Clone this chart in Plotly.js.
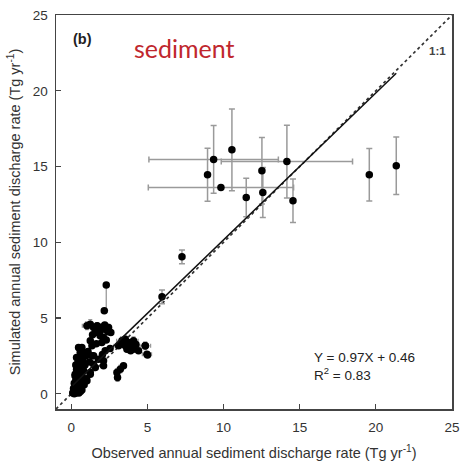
<!DOCTYPE html>
<html>
<head>
<meta charset="utf-8">
<script src="https://cdn.plot.ly/plotly-3.0.1.min.js"></script>
<style>html,body{margin:0;padding:0;background:#fff;}#chart{width:461px;height:464px;}</style>
</head>
<body>
<div id="chart"></div>
<script>
// Stations with large error bars (observed x, simulated y, x error, y error)
const bigObs   = [8.95, 9.35, 10.55, 9.83, 11.49, 12.52, 12.58, 14.16, 14.56, 19.57, 21.34, 7.27, 5.96];
const bigSim   = [14.46, 15.47, 16.10, 13.62, 12.96, 14.72, 13.29, 15.33, 12.74, 14.46, 15.05, 9.04, 6.40];
const bigErrX  = [0, 4.25, 0, 4.77, 0, 0, 0, 4.31, 0, 0, 0, 0, 0];
const bigErrY  = [1.75, 2.23, 2.7, 0, 1.27, 2.2, 1.65, 2.4, 1.43, 1.73, 1.9, 0.45, 0.45];

// Stations in the low-discharge cluster
const smallObs = [2.30, 2.17, 1.03, 1.25, 1.47, 1.79, 2.01, 2.23, 2.45, 2.60, 1.58, 1.90, 2.12, 1.25, 1.36, 2.01, 2.23, 0.59, 0.70,
                  1.47, 1.79, 2.12, 1.58, 1.25, 0.59, 0.81, 3.33, 3.55, 3.76, 4.09, 3.11, 3.66, 4.09, 4.42, 4.86, 4.97, 3.55, 3.87,
                  3.22, 3.00, 3.43, 3.04, 2.12, 0.48, 0.59, 1.36, 1.47, 3.76, 4.86, 5.01, 0.26, 0.70, 1.03, 1.25,
                  0.20, 0.30, 0.40, 0.50, 0.60, 0.25, 0.35, 0.45, 0.55, 0.70, 0.30, 0.40, 0.50, 0.65, 0.20, 0.30, 0.45, 0.60,
                  0.25, 0.40, 0.55, 0.70, 0.35, 0.50, 0.65, 0.80, 0.90, 0.30, 0.45, 0.75, 0.15, 0.10, 0.85, 1.00, 0.60, 0.95, 0.35, 0.15,
                  1.70, 2.20, 2.40, 1.90, 1.40, 2.30, 1.10, 2.55, 1.65, 2.05, 1.20, 0.85, 3.90, 4.25];
const smallSim = [7.19, 5.48, 4.49, 4.60, 4.38, 4.27, 4.38, 4.27, 4.38, 4.05, 4.05, 3.83, 3.72, 3.50, 3.17, 3.39, 2.84, 2.95, 3.06,
                  2.51, 2.29, 1.85, 1.74, 1.41, 1.74, 1.52, 3.50, 3.61, 3.39, 3.50, 3.17, 2.95, 2.95, 2.84, 3.17, 2.62, 3.17, 3.17,
                  1.63, 1.41, 1.85, 1.08, 2.18, 3.06, 2.73, 2.51, 1.96, 3.06, 3.17, 2.57, 1.30, 1.08, 0.86, 1.30,
                  0.00, 0.05, 0.10, 0.05, 0.15, 0.20, 0.30, 0.35, 0.30, 0.25, 0.50, 0.60, 0.70, 0.55, 0.70, 0.90, 1.00, 0.90,
                  1.20, 1.30, 1.40, 1.20, 1.60, 1.70, 1.80, 1.50, 1.90, 1.90, 2.10, 2.20, 0.35, 0.05, 0.60, 1.00, 2.40, 2.50, 2.40, 0.15,
                  4.50, 4.55, 4.10, 4.15, 3.90, 3.55, 2.80, 3.00, 3.30, 2.60, 2.10, 2.70, 2.85, 3.25];
const smallErrX = [0, 0, 0.3, 0, 0, 0, 0, 0, 0, 0, 0, 0, 0, 0, 0, 0, 0, 0, 0,
                   0, 0, 0, 0, 0, 0, 0, 0.35, 0, 0, 0.3, 0.3, 0, 0, 0, 0.35, 0.3, 0, 0,
                   0, 0, 0, 0, 0, 0, 0, 0, 0, 0, 0, 0, 0, 0, 0, 0,
                   0, 0, 0, 0, 0, 0, 0, 0, 0, 0, 0, 0, 0, 0, 0, 0, 0, 0, 0, 0, 0, 0, 0, 0, 0, 0, 0, 0, 0, 0, 0, 0, 0, 0, 0, 0, 0, 0,
                   0, 0, 0, 0, 0, 0, 0, 0, 0, 0, 0, 0, 0, 0];
const smallErrYPlus  = [0, 0, 0.25, 0.3, 0, 0, 0.25, 0, 0.2, 0, 0, 0, 0, 0, 0, 0, 0, 0, 0,
                        0, 0, 0, 0, 0, 0, 0, 0.25, 0.2, 0, 0.25, 0, 0, 0, 0, 0.25, 0, 0, 0,
                        0.25, 0.25, 0, 0.25, 0, 0, 0, 0, 0, 0.2, 0, 0, 0, 0, 0, 0,
                        0, 0, 0, 0, 0, 0, 0, 0, 0, 0, 0, 0, 0, 0, 0, 0, 0, 0, 0, 0, 0, 0, 0, 0, 0, 0, 0, 0, 0, 0, 0, 0, 0, 0, 0, 0, 0, 0,
                        0.2, 0, 0, 0, 0, 0, 0, 0, 0, 0, 0, 0, 0, 0];
const smallErrYMinus = [1.7, 0, 0.25, 0.3, 0, 0, 0.25, 0, 0.2, 0, 0, 0, 0, 0, 0, 0, 0, 0, 0,
                        0, 0, 0, 0, 0, 0, 0, 0.25, 0.2, 0, 0.25, 0, 0, 0, 0, 0.25, 0, 0, 0,
                        0.25, 0.25, 0, 0.25, 0, 0, 0, 0, 0, 0.2, 0, 0, 0, 0, 0, 0,
                        0, 0, 0, 0, 0, 0, 0, 0, 0, 0, 0, 0, 0, 0, 0, 0, 0, 0, 0, 0, 0, 0, 0, 0, 0, 0, 0, 0, 0, 0, 0, 0, 0, 0, 0, 0, 0, 0,
                        0.2, 0, 0, 0, 0, 0, 0, 0, 0, 0, 0, 0, 0, 0];

// Regression and reference line
const slope = 0.97, intercept = 0.46, r2 = 0.83;
const oneToOne = [-1, 25];
const xTicks = [0, 5, 10, 15, 20, 25];
const yTicks = [0, 5, 10, 15, 20, 25];

const allObs = bigObs.concat(smallObs);
const regX = [Math.min(...allObs), Math.max(...allObs)];
const regY = regX.map(v => slope * v + intercept);

const errColor = '#9a9a9a';
const FONT = 'Liberation Sans, Arial, sans-serif';
const traces = [
  { x: oneToOne, y: oneToOne, mode: 'lines', line: {color: '#333', width: 1.7, dash: 'dot'}, hoverinfo: 'skip' },
  { x: smallObs, y: smallSim, mode: 'markers', marker: {color: '#000', size: 7.5},
    error_x: {type: 'data', array: smallErrX, color: errColor, thickness: 1.3, width: 2},
    error_y: {type: 'data', array: smallErrYPlus, arrayminus: smallErrYMinus, symmetric: false, color: errColor, thickness: 1.3, width: 2} },
  { x: bigObs, y: bigSim, mode: 'markers', marker: {color: '#000', size: 7.5},
    error_x: {type: 'data', array: bigErrX, color: errColor, thickness: 1.5, width: 3},
    error_y: {type: 'data', array: bigErrY, color: errColor, thickness: 1.5, width: 3} },
  { x: regX, y: regY, mode: 'lines', line: {color: '#111', width: 1.5}, hoverinfo: 'skip' }
];

const axisCommon = {
  range: [-1, 25], ticks: 'inside', ticklen: 5, tickwidth: 1.2, tickcolor: '#444',
  showline: true, mirror: true, linecolor: '#444', linewidth: 1.5,
  showgrid: false, zeroline: false,
  tickfont: {family: FONT, size: 13.5, color: '#333'}
};

const layout = {
  width: 461, height: 464,
  margin: {l: 56, r: 9, t: 15, b: 55},
  paper_bgcolor: '#fff', plot_bgcolor: '#fff',
  showlegend: false,
  xaxis: Object.assign({}, axisCommon, {
    tickvals: xTicks, ticklabelstandoff: 5,
    title: {text: 'Observed annual sediment discharge rate (Tg yr<sup>-1</sup>)', standoff: 14,
            font: {family: FONT, size: 14.5, color: '#333'}}
  }),
  yaxis: Object.assign({}, axisCommon, {
    tickvals: yTicks, ticklabelstandoff: 4,
    title: {text: 'Simulated annual sediment discharge rate (Tg yr<sup>-1</sup>)', standoff: 8,
            font: {family: FONT, size: 14.5, color: '#333'}}
  }),
  annotations: [
    {x: 0.75, y: 23.4, xref: 'x', yref: 'y', text: '<b>(b)</b>', showarrow: false,
     font: {family: FONT, size: 14.5, color: '#222'}},
    {x: 7.42, y: 22.8, xref: 'x', yref: 'y', text: 'sediment', showarrow: false,
     font: {family: 'Lato, Open Sans, sans-serif', size: 25, color: '#C0272D'}},
    {x: 24.03, y: 22.6, xref: 'x', yref: 'y', text: '<b>1:1</b>', showarrow: false,
     font: {family: FONT, size: 11.5, color: '#444'}},
    {x: 15.8, y: 1.8, xref: 'x', yref: 'y', xanchor: 'left', yanchor: 'middle', align: 'left', showarrow: false,
     text: 'Y = ' + slope.toFixed(2) + 'X + ' + intercept.toFixed(2) + '<br>R<sup>2</sup> = ' + r2.toFixed(2),
     font: {family: FONT, size: 13.5, color: '#222'}}
  ]
};

Plotly.newPlot('chart', traces, layout, {displayModeBar: false, staticPlot: true});
</script>
</body>
</html>
